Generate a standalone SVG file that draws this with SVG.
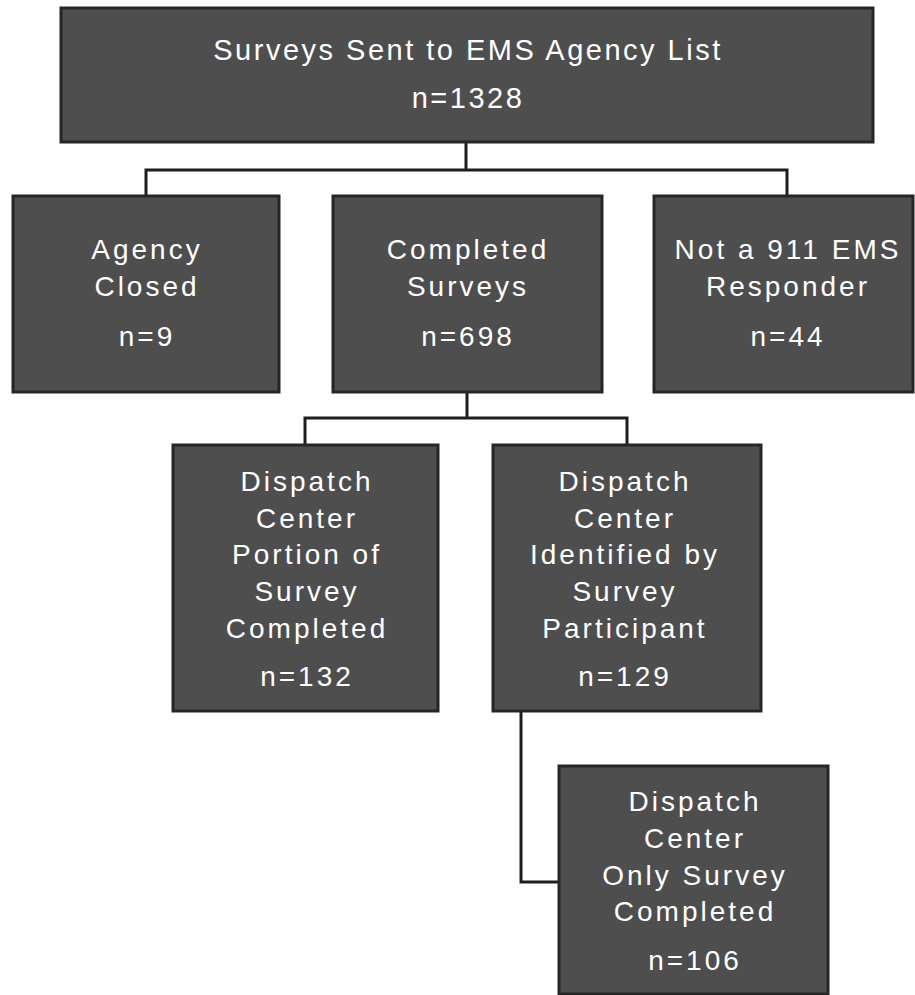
<svg xmlns="http://www.w3.org/2000/svg" width="915" height="995" viewBox="0 0 915 995">
<style>
.box{fill:#4e4e4e;stroke:#262626;stroke-width:3}
.t{fill:#ffffff;font-family:"Liberation Sans",Arial,Helvetica,sans-serif;font-size:28px;text-anchor:middle;letter-spacing:3px}
.h{font-size:29px;letter-spacing:2.5px}
.c{fill:none;stroke:#1e1e1e;stroke-width:3;stroke-linejoin:miter}
</style>
<rect width="915" height="995" fill="#ffffff"/>
<g id="connectors">
<path class="c" d="M466 142 V170 M146 196 V170 H787 V196"/>
<path class="c" d="M467 392 V418 M305 445 V418 H627 V445"/>
<path class="c" d="M521 711 V882 H559"/>
</g>
<g id="n1">
<rect class="box" x="61" y="8" width="812" height="134"/>
<text class="t h" x="468" y="60">Surveys Sent to EMS Agency List</text>
<text class="t h" x="468" y="108">n=1328</text>
</g>
<g id="n2">
<rect class="box" x="13" y="196" width="266" height="196"/>
<text class="t" x="147" y="259">Agency</text>
<text class="t" x="147" y="296">Closed</text>
<text class="t" x="147" y="346">n=9</text>
</g>
<g id="n3">
<rect class="box" x="333" y="196" width="269" height="196"/>
<text class="t" x="468" y="259">Completed</text>
<text class="t" x="468" y="296">Surveys</text>
<text class="t" x="468" y="346">n=698</text>
</g>
<g id="n4">
<rect class="box" x="654" y="196" width="259" height="196"/>
<text class="t" x="788" y="259">Not a 911 EMS</text>
<text class="t" x="788" y="296">Responder</text>
<text class="t" x="788" y="346">n=44</text>
</g>
<g id="n5">
<rect class="box" x="173" y="445" width="265" height="266"/>
<text class="t" x="307" y="491">Dispatch</text>
<text class="t" x="307" y="528">Center</text>
<text class="t" x="307" y="564">Portion of</text>
<text class="t" x="307" y="601">Survey</text>
<text class="t" x="307" y="638">Completed</text>
<text class="t" x="307" y="686">n=132</text>
</g>
<g id="n6">
<rect class="box" x="493" y="445" width="268" height="266"/>
<text class="t" x="625" y="491">Dispatch</text>
<text class="t" x="625" y="528">Center</text>
<text class="t" x="625" y="564">Identified by</text>
<text class="t" x="625" y="601">Survey</text>
<text class="t" x="625" y="638">Participant</text>
<text class="t" x="625" y="686">n=129</text>
</g>
<g id="n7">
<rect class="box" x="559" y="766" width="269" height="228"/>
<text class="t" x="695" y="811">Dispatch</text>
<text class="t" x="695" y="848">Center</text>
<text class="t" x="695" y="885">Only Survey</text>
<text class="t" x="695" y="921">Completed</text>
<text class="t" x="695" y="970">n=106</text>
</g>
</svg>
